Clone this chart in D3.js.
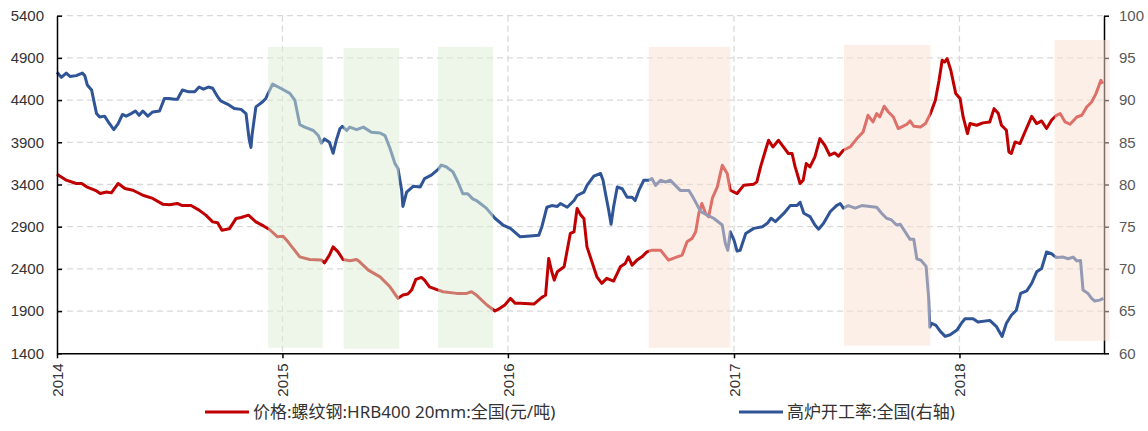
<!DOCTYPE html>
<html>
<head>
<meta charset="utf-8">
<script src="https://cdn.jsdelivr.net/npm/d3@7"></script>
<style>
  body { margin: 0; background: #fff; }
  svg { display: block; font-family: "Liberation Sans", Arial, sans-serif; }
</style>
</head>
<body>
<svg id="chart" width="1148" height="431"></svg>
<script>
// rebar price (left axis, 元/吨)
const priceData = [
  ["2014-01-01",3522],["2014-01-16",3451],["2014-02-01",3412],["2014-02-10",3412],["2014-02-18",3372],["2014-03-06",3324],
  ["2014-03-12",3293],["2014-03-22",3312],["2014-03-30",3301],["2014-04-10",3412],["2014-04-21",3353],["2014-05-04",3332],
  ["2014-05-20",3273],["2014-06-05",3235],["2014-06-21",3167],["2014-07-02",3159],["2014-07-15",3175],["2014-07-23",3151],
  ["2014-08-06",3151],["2014-08-19",3096],["2014-08-30",3037],["2014-09-10",2957],["2014-09-18",2946],["2014-09-25",2859],
  ["2014-10-07",2875],["2014-10-18",2998],["2014-10-26",3009],["2014-11-07",3037],["2014-11-19",2957],["2014-12-02",2906],
  ["2014-12-11",2867],["2014-12-24",2780],["2015-01-02",2788],["2015-01-10",2721],["2015-01-29",2543],["2015-02-14",2512],
  ["2015-03-05",2504],["2015-03-10",2472],["2015-03-18",2563],["2015-03-24",2661],["2015-04-01",2602],["2015-04-09",2512],
  ["2015-04-20",2496],["2015-05-01",2512],["2015-05-06",2484],["2015-05-20",2386],["2015-06-08",2306],["2015-06-24",2188],
  ["2015-07-07",2051],["2015-07-15",2090],["2015-07-23",2102],["2015-07-29",2149],["2015-08-05",2276],["2015-08-14",2299],
  ["2015-08-19",2267],["2015-08-27",2188],["2015-09-07",2157],["2015-09-18",2129],["2015-10-10",2110],["2015-10-26",2110],
  ["2015-11-03",2129],["2015-11-11",2090],["2015-11-28",1972],["2015-12-11",1901],["2015-12-19",1933],["2015-12-27",1972],
  ["2016-01-05",2051],["2016-01-13",1992],["2016-01-21",1992],["2016-02-12",1983],["2016-02-23",2051],["2016-03-02",2090],
  ["2016-03-07",2524],["2016-03-12",2366],["2016-03-16",2267],["2016-03-21",2366],["2016-04-01",2425],["2016-04-11",2820],
  ["2016-04-17",2839],["2016-04-22",3116],["2016-04-28",3037],["2016-05-03",2998],["2016-05-08",2661],["2016-05-16",2484],
  ["2016-05-24",2306],["2016-06-01",2228],["2016-06-09",2288],["2016-06-20",2256],["2016-07-01",2425],["2016-07-09",2465],
  ["2016-07-14",2543],["2016-07-20",2445],["2016-07-28",2504],["2016-08-05",2543],["2016-08-13",2602],["2016-08-21",2622],
  ["2016-09-04",2622],["2016-09-17",2504],["2016-10-01",2543],["2016-10-09",2563],["2016-10-17",2721],["2016-10-25",2761],
  ["2016-10-31",2839],["2016-11-05",3057],["2016-11-10",3175],["2016-11-16",3057],["2016-11-21",3017],["2016-11-27",3238],
  ["2016-12-05",3372],["2016-12-13",3628],["2016-12-21",3530],["2016-12-26",3332],["2017-01-06",3293],["2017-01-17",3392],
  ["2017-02-02",3404],["2017-02-07",3431],["2017-02-13",3608],["2017-02-21",3806],["2017-02-26",3924],["2017-03-05",3845],
  ["2017-03-14",3924],["2017-03-22",3845],["2017-03-30",3767],["2017-04-05",3767],["2017-04-10",3608],["2017-04-18",3412],
  ["2017-04-23",3451],["2017-04-28",3648],["2017-05-04",3608],["2017-05-12",3727],["2017-05-20",3944],["2017-05-28",3865],
  ["2017-06-05",3747],["2017-06-13",3774],["2017-06-19",3735],["2017-06-27",3806],["2017-07-08",3845],["2017-07-19",3944],
  ["2017-07-29",4022],["2017-08-06",4220],["2017-08-14",4141],["2017-08-20",4240],["2017-08-25",4200],["2017-09-01",4327],
  ["2017-09-08",4259],["2017-09-16",4200],["2017-09-24",4063],["2017-10-08",4114],["2017-10-13",4153],["2017-10-19",4090],
  ["2017-10-30",4082],["2017-11-07",4122],["2017-11-15",4240],["2017-11-23",4398],["2017-11-29",4634],["2017-12-04",4871],
  ["2017-12-08",4851],["2017-12-12",4891],["2017-12-18",4753],["2017-12-26",4477],["2018-01-02",4418],["2018-01-07",4200],
  ["2018-01-14",4003],["2018-01-18",4122],["2018-01-29",4102],["2018-02-08",4130],["2018-02-19",4141],["2018-02-26",4299],
  ["2018-03-05",4240],["2018-03-10",4102],["2018-03-18",4043],["2018-03-22",3786],["2018-03-26",3767],["2018-04-01",3904],
  ["2018-04-09",3885],["2018-04-17",4022],["2018-04-28",4208],["2018-05-06",4122],["2018-05-14",4153],["2018-05-22",4063],
  ["2018-05-30",4161],["2018-06-07",4220],["2018-06-13",4240],["2018-06-21",4141],["2018-06-29",4114],["2018-07-10",4200],
  ["2018-07-18",4220],["2018-07-26",4318],["2018-08-03",4377],["2018-08-10",4477],["2018-08-18",4634],["2018-08-21",4595]
];

// blast furnace utilisation (right axis, %)
const rateData = [
  ["2014-01-01",93.3],["2014-01-08",92.7],["2014-01-16",93.2],["2014-01-22",92.8],["2014-02-01",92.9],["2014-02-11",93.2],
  ["2014-02-15",92.9],["2014-02-19",91.8],["2014-02-26",91.2],["2014-03-06",88.4],["2014-03-11",88.0],["2014-03-19",88.1],
  ["2014-03-27",87.2],["2014-04-03",86.5],["2014-04-10",87.2],["2014-04-17",88.3],["2014-04-23",88.1],["2014-05-01",88.4],
  ["2014-05-08",88.7],["2014-05-14",88.2],["2014-05-20",88.7],["2014-05-28",88.1],["2014-06-05",88.6],["2014-06-16",88.7],
  ["2014-06-24",90.2],["2014-07-02",90.2],["2014-07-10",90.1],["2014-07-15",90.1],["2014-07-23",91.2],["2014-08-01",91.0],
  ["2014-08-12",91.0],["2014-08-19",91.55],["2014-08-26",91.3],["2014-09-03",91.55],["2014-09-10",91.4],["2014-09-18",90.4],
  ["2014-09-23",89.9],["2014-10-07",89.4],["2014-10-15",89.0],["2014-10-26",88.9],["2014-11-03",88.4],["2014-11-05",87.2],
  ["2014-11-08",85.4],["2014-11-11",84.4],["2014-11-13",86.0],["2014-11-19",89.2],["2014-11-30",89.8],["2014-12-05",90.2],
  ["2014-12-16",91.9],["2014-12-29",91.4],["2015-01-13",90.8],["2015-01-21",90.0],["2015-01-29",87.1],["2015-02-06",86.8],
  ["2015-02-20",86.4],["2015-02-28",85.8],["2015-03-05",84.9],["2015-03-10",85.4],["2015-03-18",85.0],["2015-03-24",83.7],
  ["2015-03-29",85.2],["2015-04-04",86.6],["2015-04-08",86.9],["2015-04-15",86.4],["2015-04-20",86.8],["2015-05-01",86.5],
  ["2015-05-12",86.8],["2015-05-25",86.2],["2015-06-08",86.1],["2015-06-16",85.8],["2015-06-24",84.3],["2015-07-02",82.5],
  ["2015-07-07",81.9],["2015-07-13",79.3],["2015-07-15",77.4],["2015-07-21",79.1],["2015-08-01",79.8],["2015-08-12",79.7],
  ["2015-08-19",80.7],["2015-08-30",81.1],["2015-09-10",81.8],["2015-09-15",82.3],["2015-09-23",82.1],["2015-10-04",81.5],
  ["2015-10-12",80.3],["2015-10-20",78.9],["2015-10-28",78.9],["2015-11-05",78.3],["2015-11-11",78.1],["2015-11-27",77.2],
  ["2015-12-11",76.0],["2015-12-24",75.2],["2016-01-05",74.8],["2016-01-21",73.8],["2016-02-06",73.9],["2016-02-20",74.0],
  ["2016-02-25",75.0],["2016-03-04",77.3],["2016-03-12",77.5],["2016-03-21",77.4],["2016-03-26",77.75],["2016-04-06",77.3],
  ["2016-04-17",78.1],["2016-04-22",78.7],["2016-05-03",79.1],["2016-05-08",79.9],["2016-05-19",81.0],["2016-05-30",81.3],
  ["2016-06-03",80.5],["2016-06-07",78.9],["2016-06-12",77.0],["2016-06-16",75.3],["2016-06-20",77.3],["2016-06-26",79.7],
  ["2016-07-04",79.5],["2016-07-12",78.5],["2016-07-20",78.5],["2016-07-25",78.1],["2016-07-31",79.3],["2016-08-08",80.5],
  ["2016-08-16",80.5],["2016-08-21",80.7],["2016-08-27",79.9],["2016-09-04",80.5],["2016-09-12",80.3],["2016-09-20",80.5],
  ["2016-09-28",79.9],["2016-10-06",79.3],["2016-10-20",79.3],["2016-10-28",78.3],["2016-11-08",76.8],["2016-11-18",76.4],
  ["2016-11-29",76.0],["2016-12-13",75.2],["2016-12-18",73.0],["2016-12-22",72.2],["2016-12-26",74.4],["2017-01-01",73.4],
  ["2017-01-06",72.1],["2017-01-11",72.2],["2017-01-20",74.2],["2017-02-02",74.8],["2017-02-16",75.0],["2017-02-24",75.4],
  ["2017-03-02",76.0],["2017-03-09",75.6],["2017-03-23",76.6],["2017-04-02",77.5],["2017-04-13",77.5],["2017-04-18",77.9],
  ["2017-04-24",76.6],["2017-05-04",76.2],["2017-05-12",75.2],["2017-05-18",74.7],["2017-05-26",75.4],["2017-06-06",76.8],
  ["2017-06-16",77.5],["2017-06-22",77.75],["2017-06-27",77.2],["2017-07-05",77.5],["2017-07-16",77.2],["2017-07-27",77.5],
  ["2017-08-09",77.4],["2017-08-20",77.3],["2017-08-28",76.6],["2017-09-05",76.0],["2017-09-13",75.8],["2017-09-21",75.2],
  ["2017-09-27",75.3],["2017-10-05",74.4],["2017-10-13",73.5],["2017-10-19",73.5],["2017-10-24",71.2],["2017-10-31",71.0],
  ["2017-11-08",70.3],["2017-11-12",66.7],["2017-11-14",63.1],["2017-11-17",63.55],["2017-11-24",63.3],["2017-12-01",62.6],
  ["2017-12-09",62.0],["2017-12-17",62.2],["2017-12-28",62.75],["2018-01-04",63.55],["2018-01-10",64.1],["2018-01-23",64.1],
  ["2018-01-31",63.7],["2018-02-19",63.9],["2018-03-02",63.15],["2018-03-11",62.0],["2018-03-18",63.55],["2018-03-26",64.5],
  ["2018-04-03",65.1],["2018-04-10",67.1],["2018-04-20",67.4],["2018-04-28",68.3],["2018-05-06",69.65],["2018-05-14",70.05],
  ["2018-05-22",72.0],["2018-05-30",71.8],["2018-06-07",71.35],["2018-06-18",71.4],["2018-06-26",71.2],["2018-07-04",71.4],
  ["2018-07-10",70.95],["2018-07-16",71.0],["2018-07-20",67.5],["2018-07-28",67.1],["2018-08-03",66.5],["2018-08-08",66.2],
  ["2018-08-16",66.3],["2018-08-22",66.5]
];

// highlighted periods (top/bottom in left-axis units)
const bandStart  = ["2014-12-09","2015-04-10","2015-09-10","2016-08-16","2017-06-28","2018-06-04"];
const bandEnd    = ["2015-03-07","2015-07-09","2015-12-08","2016-12-26","2017-11-15","2018-09-01"];
const bandTop    = [5030, 5018, 5030, 5030, 5053, 5112];
const bandBottom = [1466, 1454, 1466, 1466, 1490, 1549];
const bandKind   = ["down","down","down","up","up","up"];

const seriesNames = ["价格:螺纹钢:HRB400 20mm:全国(元/吨)", "高炉开工率:全国(右轴)"];
const leftTicks  = [1400, 1900, 2400, 2900, 3400, 3900, 4400, 4900, 5400];
const rightTicks = [60, 65, 70, 75, 80, 85, 90, 95, 100];
const xStart = "2014-01-01";
const xEnd   = "2018-08-23";

const parse = d3.timeParse("%Y-%m-%d");
const margin = { top: 15.7, right: 44, bottom: 77.7, left: 57 };
const W = 1148, H = 431;
const width = W - margin.left - margin.right;
const height = H - margin.top - margin.bottom;

const colors = { price: "#c00000", rate: "#2f5597", down: "rgb(221,237,213)", up: "rgb(249,224,207)" };

const svg = d3.select("#chart");
const g = svg.append("g").attr("transform", `translate(${margin.left},${margin.top})`);

const x = d3.scaleTime().domain([parse(xStart), parse(xEnd)]).range([0, width]);
const yL = d3.scaleLinear().domain([1400, 5400]).range([height, 0]);
const yR = d3.scaleLinear().domain([60, 100]).range([height, 0]);

// grid
const grid = g.append("g")
  .attr("stroke", "#d9d9d9")
  .attr("stroke-width", 1.3)
  .attr("stroke-dasharray", "6,4");

grid.selectAll("line.h")
  .data(leftTicks.slice(1))
  .join("line")
  .attr("class", "h")
  .attr("x1", 0)
  .attr("x2", width)
  .attr("y1", (d) => yL(d))
  .attr("y2", (d) => yL(d));

grid.selectAll("line.v")
  .data(x.ticks(d3.timeYear.every(1)).slice(1))
  .join("line")
  .attr("class", "v")
  .attr("x1", (d) => x(d))
  .attr("x2", (d) => x(d))
  .attr("y1", 0)
  .attr("y2", height);

// lines
const priceLine = d3.line()
  .x((d) => x(parse(d[0])))
  .y((d) => yL(d[1]));
const rateLine = d3.line()
  .x((d) => x(parse(d[0])))
  .y((d) => yR(d[1]));

g.append("path")
  .datum(priceData)
  .attr("fill", "none")
  .attr("stroke", colors.price)
  .attr("stroke-width", 3)
  .attr("stroke-linejoin", "round")
  .attr("d", priceLine);

g.append("path")
  .datum(rateData)
  .attr("fill", "none")
  .attr("stroke", colors.rate)
  .attr("stroke-width", 3)
  .attr("stroke-linejoin", "round")
  .attr("d", rateLine);

// axes
const axisLeft = g.append("g")
  .call(d3.axisLeft(yL).tickValues(leftTicks).tickSizeInner(-5).tickSizeOuter(0).tickPadding(13).tickFormat(d3.format("d")));

const axisRight = g.append("g")
  .attr("transform", `translate(${width},0)`)
  .call(d3.axisRight(yR).tickValues(rightTicks).tickSizeInner(5).tickSizeOuter(0).tickPadding(10));

const axisBottom = g.append("g")
  .attr("transform", `translate(0,${height})`)
  .call(d3.axisBottom(x).ticks(d3.timeYear.every(1)).tickSizeInner(5).tickSizeOuter(0).tickFormat(d3.timeFormat("%Y")));

axisBottom.selectAll("text")
  .attr("transform", "rotate(-90)")
  .attr("text-anchor", "end")
  .attr("x", -10)
  .attr("y", 0)
  .attr("dy", "0.35em");

[axisLeft, axisRight, axisBottom].forEach((a) => {
  a.select(".domain").attr("stroke", "#000").attr("stroke-width", 1.5);
  a.selectAll(".tick line").attr("stroke", "#000").attr("stroke-width", 1.5);
  a.selectAll("text").attr("font-size", 15).attr("font-family", "Liberation Sans, Arial, sans-serif");
});
axisLeft.selectAll("text").attr("fill", "#333");
axisBottom.selectAll("text").attr("fill", "#333");
axisRight.selectAll("text").attr("fill", "#595959");

// translucent highlight bands over everything
g.append("g")
  .selectAll("rect")
  .data(bandStart.map((s, i) => ({ s: parse(s), e: parse(bandEnd[i]), top: bandTop[i], bottom: bandBottom[i], kind: bandKind[i] })))
  .join("rect")
  .attr("x", (d) => x(d.s))
  .attr("width", (d) => x(d.e) - x(d.s))
  .attr("y", (d) => yL(d.top))
  .attr("height", (d) => yL(d.bottom) - yL(d.top))
  .attr("fill", (d) => colors[d.kind])
  .attr("fill-opacity", 0.5);

// legend
const legendX = [205, 739];
const legendColors = [colors.price, colors.rate];
const legend = svg.append("g").attr("transform", "translate(0,412)");
const items = legend.selectAll("g")
  .data(seriesNames)
  .join("g")
  .attr("transform", (_d, i) => `translate(${legendX[i]},0)`);
items.append("line")
  .attr("x1", 0)
  .attr("x2", 44)
  .attr("stroke", (_d, i) => legendColors[i])
  .attr("stroke-width", 3);
items.append("text")
  .attr("x", 48)
  .attr("dy", "0.35em")
  .attr("font-size", 17)
  .attr("font-family", "Noto Sans, Noto Sans CJK SC, sans-serif")
  .attr("fill", "#333")
  .text((d) => d);
</script>
</body>
</html>
